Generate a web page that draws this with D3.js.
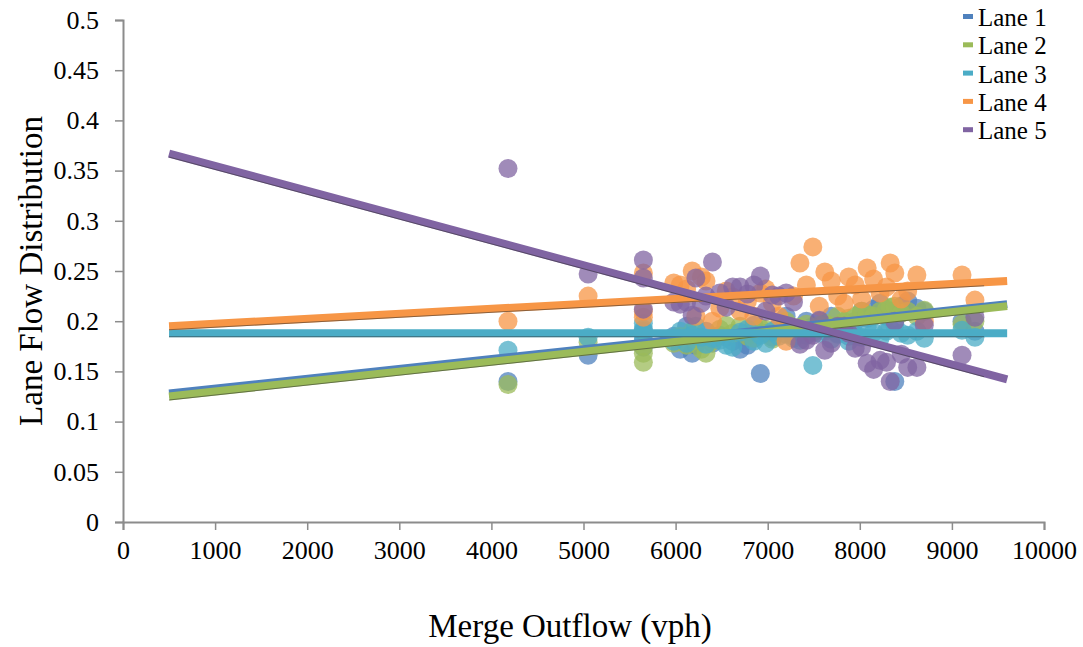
<!DOCTYPE html>
<html>
<head>
<meta charset="utf-8">
<script src="https://cdn.jsdelivr.net/npm/d3@7"></script>
<style>
  body { margin: 0; background: #fff; }
  text { font-family: "Liberation Serif", "DejaVu Serif", serif; fill: #000; }
</style>
</head>
<body>
<svg width="1083" height="647"></svg>
<script>
// lanes and colours
const lanes = ['Lane 1', 'Lane 2', 'Lane 3', 'Lane 4', 'Lane 5']
const colors = ['#4F81BD', '#9BBB59', '#4BACC6', '#F79646', '#8064A2']

// merge outflow (vph) of each observation
const outflow = [4180, 5050, 5650, 5650, 5650, 5980, 6050, 6120, 6180, 6220, 6280, 6330, 6400, 6480,
    6550, 6620, 6700, 6780, 6850, 6920, 6980, 7050, 7120, 7200, 7280, 7350, 7420, 7490, 7560, 7620,
    7690, 7760, 7830, 7880, 7950, 8020, 8080, 8150, 8220, 8290, 8330, 8380, 8450, 8520, 8620, 8700,
    9110, 9250]

// lane flow distribution per lane, same order as outflow
const lane1 = [0.140, 0.166, 0.174, 0.180, 0.190, 0.185, 0.172, 0.195, 0.168, 0.176, 0.182, 0.190, 0.178, 0.186,
    0.184, 0.180, 0.172, 0.176, 0.196, 0.148, 0.188, 0.184, 0.195, 0.205, 0.185, 0.190, 0.200, 0.195, 0.200, 0.192,
    0.205, 0.188, 0.196, 0.185, 0.200, 0.210, 0.203, 0.212, 0.218, 0.205, 0.210, 0.140, 0.215, 0.220, 0.213, 0.210,
    0.200, 0.190]
const lane2 = [0.137, 0.179, 0.168, 0.159, 0.175, 0.178, 0.185, 0.176, 0.190, 0.181, 0.172, 0.168, 0.180, 0.192,
    0.196, 0.188, 0.195, 0.185, 0.183, 0.193, 0.192, 0.182, 0.190, 0.200, 0.188, 0.194, 0.197, 0.189, 0.196, 0.198,
    0.195, 0.205, 0.200, 0.203, 0.205, 0.210, 0.207, 0.205, 0.210, 0.212, 0.214, 0.215, 0.208, 0.210, 0.205, 0.211,
    0.197, 0.200]
const lane3 = [0.171, 0.184, 0.198, 0.192, 0.185, 0.180, 0.190, 0.178, 0.186, 0.195, 0.184, 0.177, 0.183, 0.181,
    0.176, 0.174, 0.189, 0.192, 0.180, 0.186, 0.178, 0.190, 0.185, 0.187, 0.183, 0.181, 0.186, 0.156, 0.188, 0.190,
    0.182, 0.187, 0.191, 0.180, 0.186, 0.184, 0.194, 0.189, 0.183, 0.190, 0.193, 0.197, 0.188, 0.186, 0.190, 0.183,
    0.191, 0.184]
const lane4 = [0.200, 0.225, 0.248, 0.204, 0.210, 0.238, 0.236, 0.232, 0.250, 0.205, 0.244, 0.240, 0.200, 0.213,
    0.230, 0.224, 0.210, 0.220, 0.205, 0.228, 0.232, 0.218, 0.205, 0.180, 0.225, 0.258, 0.236, 0.274, 0.215, 0.249,
    0.240, 0.225, 0.218, 0.244, 0.236, 0.222, 0.253, 0.242, 0.228, 0.234, 0.258, 0.248, 0.222, 0.230, 0.246, 0.200,
    0.246, 0.221]
const lane5 = [0.352, 0.247, 0.212, 0.261, 0.243, 0.219, 0.217, 0.219, 0.206, 0.243, 0.218, 0.225, 0.259, 0.228,
    0.214, 0.234, 0.234, 0.227, 0.236, 0.245, 0.210, 0.226, 0.225, 0.228, 0.219, 0.177, 0.181, 0.186, 0.201, 0.171,
    0.178, 0.195, 0.195, 0.188, 0.173, 0.174, 0.158, 0.152, 0.161, 0.159, 0.140, 0.200, 0.167, 0.154, 0.154, 0.196,
    0.166, 0.204]

// linear trendlines (start / end)
const trendX = [500, 9600]
const trendY = [[0.128, 0.217], [0.125, 0.215], [0.188, 0.188], [0.195, 0.240], [0.367, 0.142]]

const yTicks = [0, 0.05, 0.1, 0.15, 0.2, 0.25, 0.3, 0.35, 0.4, 0.45, 0.5]
const xTicks = [0, 1000, 2000, 3000, 4000, 5000, 6000, 7000, 8000, 9000, 10000]

const series = [lane1, lane2, lane3, lane4, lane5]

const svg = d3.select('svg')

const x = d3.scaleLinear().domain([0, 10000]).range([123, 1044])
const y = d3.scaleLinear().domain([0, 0.5]).range([522, 20])

const axisColor = '#8c8c8c'

// axes
const yAxis = svg.append('g')
    .attr('transform', 'translate(123,0)')
    .call(d3.axisLeft(y).tickValues(yTicks).tickSize(8).tickPadding(16).tickFormat(d => String(d)))
const xAxis = svg.append('g')
    .attr('transform', 'translate(0,522)')
    .call(d3.axisBottom(x).tickValues(xTicks).tickSize(8).tickPadding(11).tickFormat(d => String(d)))

svg.selectAll('.domain').attr('stroke', axisColor).attr('stroke-width', 2)
svg.selectAll('.tick line').attr('stroke', axisColor).attr('stroke-width', 1.5)
yAxis.selectAll('text').style('font-size', '26px').style('fill', '#000')
xAxis.selectAll('text').style('font-size', '26px').style('fill', '#000')

// axis titles
svg.append('text')
    .attr('transform', 'translate(42,271) rotate(-90)')
    .attr('text-anchor', 'middle')
    .style('font-size', '33px')
    .text('Lane Flow Distribution')
svg.append('text')
    .attr('x', 570)
    .attr('y', 637)
    .attr('text-anchor', 'middle')
    .style('font-size', '33px')
    .text('Merge Outflow (vph)')

// scatter points, series by series
const pts = svg.append('g')
series.forEach(function(vals, i) {
    pts.selectAll('circle.s' + i)
        .data(vals)
        .enter()
        .append('circle')
        .attr('class', 's' + i)
        .attr('cx', (d, j) => x(outflow[j]))
        .attr('cy', d => y(d))
        .attr('r', 9.5)
        .style('fill', colors[i])
        .style('opacity', 0.75)
})

// trendlines on top, with a thin dark edge
const trends = svg.append('g')
trendY.forEach(function(t, i) {
    const line = d3.scaleLinear().domain(trendX).range(t)
    const xEnd = trendX[1] - 250
    trends.append('line')
        .attr('x1', x(trendX[0])).attr('y1', y(t[0]))
        .attr('x2', x(trendX[1])).attr('y2', y(t[1]))
        .style('stroke', colors[i])
        .style('stroke-width', 8)
    trends.append('line')
        .attr('x1', x(trendX[0])).attr('y1', y(t[0]) + 3.5)
        .attr('x2', x(xEnd)).attr('y2', y(line(xEnd)) + 3.5)
        .style('stroke', '#333')
        .style('stroke-width', 1)
        .style('opacity', 0.55)
})

// legend
const legend = svg.append('g')
lanes.forEach(function(name, i) {
    const ly = 17 + i * 28.3
    legend.append('rect')
        .attr('x', 963).attr('y', ly - 3)
        .attr('width', 10).attr('height', 5)
        .style('fill', colors[i])
    legend.append('text')
        .attr('x', 978).attr('y', ly + 9)
        .style('font-size', '25px')
        .text(name)
})
</script>
</body>
</html>
